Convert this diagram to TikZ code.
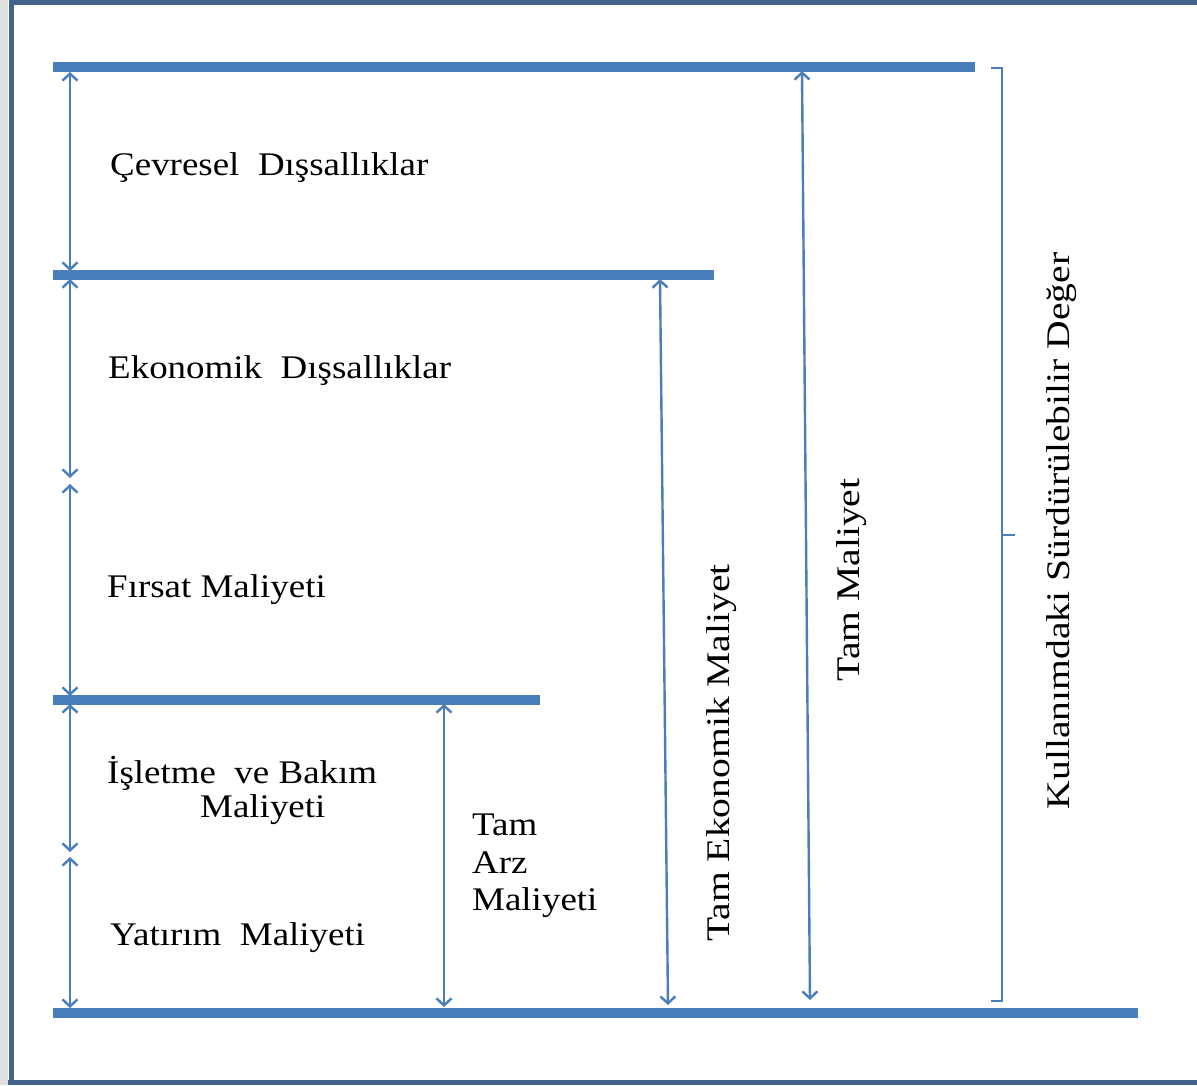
\documentclass[tikz,border=0pt]{standalone}
\usepackage{fontspec}
\setmainfont{Liberation Serif}
\usetikzlibrary{arrows.meta}
\definecolor{barblue}{HTML}{4A7EBB}
\definecolor{framecol}{HTML}{44648F}
\tikzset{
  bar/.style={draw=barblue, line width=10pt},
  dim/.style={draw=barblue, line width=2.4pt, {Straight Barb[length=7pt,width=15pt]}-{Straight Barb[length=7pt,width=15pt]}},
  lbl/.style={font=\fontsize{33}{38}\selectfont, inner sep=0pt},
}
\newcommand{\hs}[1]{\scalebox{1.12}[1]{#1}}
\newcommand{\vs}[1]{\scalebox{1.2}[1]{#1}}
\begin{document}
\begin{tikzpicture}[x=1pt,y={(0,-1pt)}]
\useasboundingbox (0,0) rectangle (1197,1085);
\fill[white] (0,0) rectangle (1197,1085);
\fill[black!12] (0,0) rectangle (8,1085);
\draw[framecol, line width=5pt] (11,1085) -- (11,2.5) -- (1197,2.5);
\draw[framecol, line width=5pt] (8,1082.5) -- (1197,1082.5);
% coordinates
\coordinate (L1a) at (53,67);   \coordinate (L1b) at (975,67);
\coordinate (L2a) at (53,275);  \coordinate (L2b) at (714,275);
\coordinate (L3a) at (53,700);  \coordinate (L3b) at (540,700);
\coordinate (L4a) at (53,1013); \coordinate (L4b) at (1138,1013);
\draw[bar] (L1a) -- (L1b);
\draw[bar] (L2a) -- (L2b);
\draw[bar] (L3a) -- (L3b);
\draw[bar] (L4a) -- (L4b);
% left dimension arrows
\coordinate (a1t) at (70,72);  \coordinate (a1b) at (70,271);
\coordinate (a2t) at (70,279); \coordinate (a2b) at (70,478);
\coordinate (a3t) at (70,484); \coordinate (a3b) at (70,696);
\coordinate (a4t) at (70,704); \coordinate (a4b) at (70,852);
\coordinate (a5t) at (70,857); \coordinate (a5b) at (70,1008);
\draw[dim] (a1t) -- (a1b);
\draw[dim] (a2t) -- (a2b);
\draw[dim] (a3t) -- (a3b);
\draw[dim] (a4t) -- (a4b);
\draw[dim] (a5t) -- (a5b);
% other arrows
\coordinate (b1t) at (444,704); \coordinate (b1b) at (444,1007);
\draw[dim] (b1t) -- (b1b);
\coordinate (b2t) at (660,279); \coordinate (b2b) at (668,1005);
\draw[dim] (b2t) -- (b2b);
\coordinate (b3t) at (802,71); \coordinate (b3b) at (810,1000);
\draw[dim] (b3t) -- (b3b);
% brace
\coordinate (brt) at (991,68); \coordinate (brb) at (991,1001);
\coordinate (brm) at (1015,535);
\draw[barblue, line width=2.4pt] (brt) -- (1002,68) -- (1002,1001) -- (brb);
\draw[barblue, line width=2.4pt] (1002,535) -- (brm);
% labels
\node[lbl, anchor=west] (t1) at (110,168) {\hs{Çevresel~~Dışsallıklar}};
\node[lbl, anchor=west] (t2) at (108,371) {\hs{Ekonomik~~Dışsallıklar}};
\node[lbl, anchor=west] (t3) at (107,590) {\hs{Fırsat Maliyeti}};
\node[lbl, anchor=west] (t4) at (107,773) {\hs{İşletme~~ve Bakım}};
\node[lbl, anchor=west] (t4b) at (200,810) {\hs{Maliyeti}};
\node[lbl, anchor=west] (t5) at (110,938) {\hs{Yatırım~~Maliyeti}};
\node[lbl, anchor=west] (t6a) at (472,825) {\hs{Tam}};
\node[lbl, anchor=west] (t6b) at (472,863) {\hs{Arz}};
\node[lbl, anchor=west] (t6c) at (472,903) {\hs{Maliyeti}};
\node[lbl, rotate=90] (t7) at (722,753) {\vs{Tam Ekonomik Maliyet}};
\node[lbl, rotate=90] (t8) at (852,580) {\vs{Tam Maliyet}};
\node[lbl, rotate=90] (t9) at (1062,531) {\vs{Kullanımdaki Sürdürülebilir Değer}};
\end{tikzpicture}
\end{document}
